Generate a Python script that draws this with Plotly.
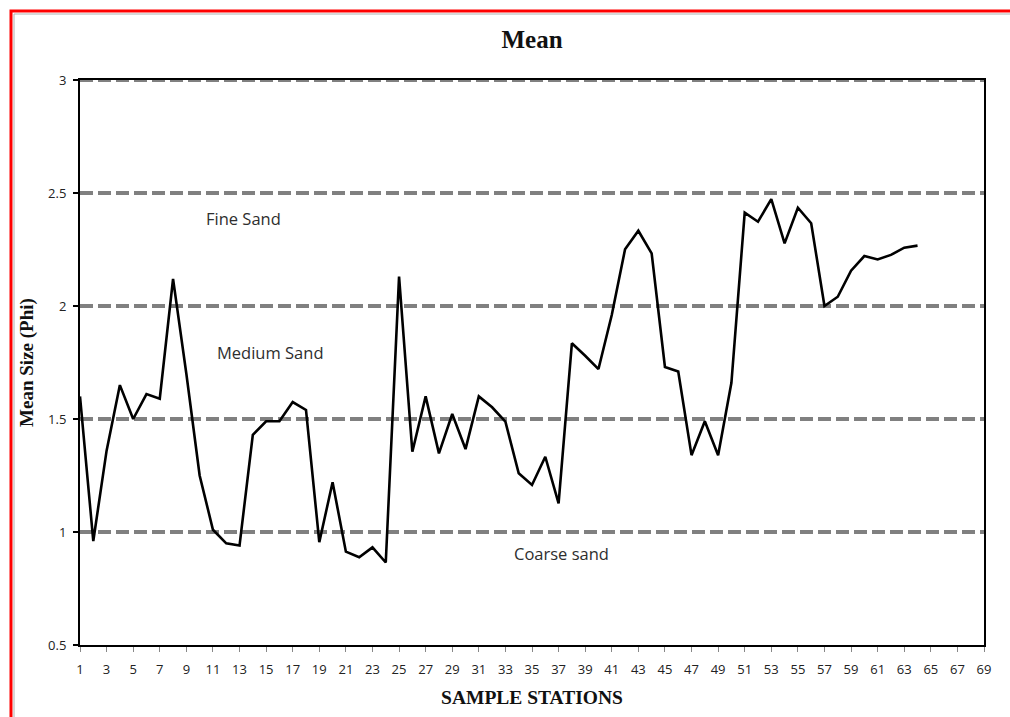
import plotly.graph_objects as go

# Sample stations and mean grain size (phi)
stations = list(range(1, 65))
mean_phi = [
    1.60, 0.96, 1.36, 1.65, 1.50, 1.61, 1.59, 2.12, 1.70, 1.25,
    1.01, 0.95, 0.94, 1.43, 1.49, 1.49, 1.575, 1.54, 0.955, 1.22,
    0.913, 0.888, 0.932, 0.865, 2.13, 1.355, 1.60, 1.348, 1.522, 1.367,
    1.60, 1.552, 1.488, 1.26, 1.208, 1.333, 1.127, 1.835, 1.78, 1.721,
    1.96, 2.251, 2.333, 2.233, 1.73, 1.71, 1.34, 1.49, 1.34, 1.66,
    2.413, 2.373, 2.473, 2.277, 2.435, 2.366, 2.00, 2.041, 2.156, 2.221,
    2.206, 2.226, 2.258, 2.267,
]

# Sediment class labels
class_labels = ["Fine Sand", "Medium Sand", "Coarse sand"]
class_x = [13.3, 15.3, 37.2]
class_y = [2.385, 1.796, 0.907]

x_ticks = list(range(1, 70, 2))
y_ticks = [0.5, 1, 1.5, 2, 2.5, 3]

W, H = 1010, 717
L, R, T, B = 80, 26, 80, 72
pw, ph = W - L - R, H - T - B


def px(x):
    return (x - L) / pw


def py(y):
    return (H - B - y) / ph


fig = go.Figure()
fig.add_trace(go.Scatter(
    x=stations, y=mean_phi, mode="lines",
    line=dict(color="black", width=2.6),
    showlegend=False, hoverinfo="x+y",
))

for txt, ax_x, ax_y in zip(class_labels, class_x, class_y):
    fig.add_annotation(
        x=ax_x, y=ax_y, text=txt, showarrow=False,
        font=dict(family="Open Sans", size=16.5, color="#2e2e2e"),
    )

shapes = [
    # dashed class boundary on the top edge (the edge gridline is not drawn)
    dict(type="line", xref="paper", yref="y", x0=0, x1=1, y0=y_ticks[-1], y1=y_ticks[-1],
         line=dict(color="#808080", width=4, dash="13px,5px"), layer="below"),
    # page border
    dict(type="rect", xref="paper", yref="paper",
         x0=px(11), x1=px(1030), y0=py(740), y1=py(11),
         line=dict(color="#ff0000", width=3), layer="above"),
    dict(type="rect", xref="paper", yref="paper",
         x0=px(14), x1=px(1030), y0=py(740), y1=py(14),
         line=dict(color="#b0b0b0", width=1), layer="above"),
]

fig.update_layout(
    width=W, height=H,
    margin=dict(l=L, r=R, t=T, b=B),
    paper_bgcolor="white", plot_bgcolor="white",
    shapes=shapes,
    title=dict(
        text="<b>Mean</b>", x=0.5, xref="paper", xanchor="center",
        y=1 - 39 / H, yanchor="middle",
        font=dict(family="Liberation Serif", size=25, color="#111"),
    ),
    xaxis=dict(
        range=[1, 69], tickvals=x_ticks, ticktext=[str(v) for v in x_ticks],
        showgrid=False, zeroline=False,
        showline=True, linecolor="black", linewidth=2, mirror=True,
        ticks="outside", ticklen=5, tickcolor="#888", tickwidth=1,
        ticklabelstandoff=6,
        tickfont=dict(family="Open Sans", size=13, color="#222"),
        title=dict(text="<b>SAMPLE STATIONS</b>", standoff=14,
                   font=dict(family="Liberation Serif", size=19.5, color="#111")),
    ),
    yaxis=dict(
        range=[0.5, 3], tickvals=y_ticks, ticktext=["0.5", "1", "1.5", "2", "2.5", "3"],
        showgrid=True, gridcolor="#808080", gridwidth=4, griddash="13px,5px",
        zeroline=False,
        showline=True, linecolor="black", linewidth=2, mirror=True,
        ticks="outside", ticklen=5, tickcolor="black", tickwidth=2,
        ticklabelstandoff=4,
        tickfont=dict(family="Open Sans", size=13, color="#222"),
        title=dict(text="<b>Mean Size (Phi)</b>", standoff=9,
                   font=dict(family="Liberation Serif", size=19, color="#111")),
    ),
)

fig.write_html("out.html")
